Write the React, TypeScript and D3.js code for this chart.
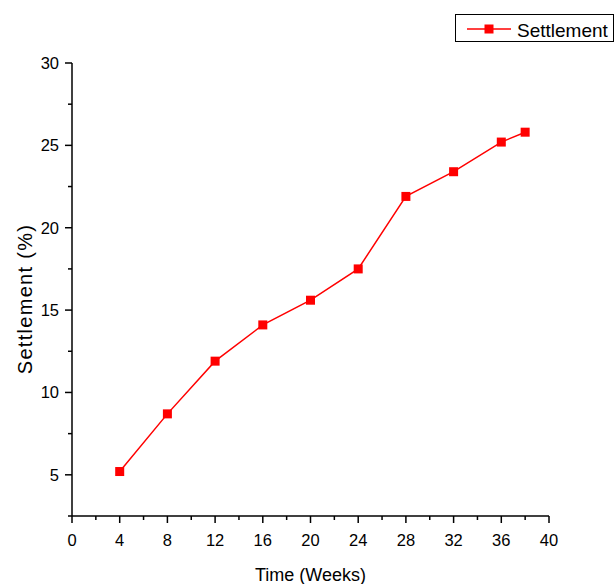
import React, { useEffect, useRef } from 'react'
import * as d3 from 'd3'

const weeks = [4, 8, 12, 16, 20, 24, 28, 32, 36, 38]
const settlement = [5.2, 8.7, 11.9, 14.1, 15.6, 17.5, 21.9, 23.4, 25.2, 25.8]
const xTicks = [0, 4, 8, 12, 16, 20, 24, 28, 32, 36, 40]
const yTicks = [5, 10, 15, 20, 25, 30]
const seriesName = 'Settlement'

export default function App() {
  const svgRef = useRef<SVGSVGElement>(null)

  useEffect(() => {
    const width = 614
    const height = 584
    const margin = { top: 63, right: 65, bottom: 68, left: 72 }
    const font = 'Liberation Sans, Arial, sans-serif'

    const svg = d3.select(svgRef.current)
    svg.selectAll('*').remove()

    const x = d3.scaleLinear().domain([0, 40]).range([margin.left, width - margin.right])
    const y = d3.scaleLinear().domain([2.5, 30]).range([height - margin.bottom, margin.top])

    // x axis: major + minor ticks
    const gx = svg.append('g').attr('transform', `translate(0,${y(2.5)})`)
    gx.append('line')
      .attr('x1', x(0) - 4).attr('x2', x(40))
      .attr('stroke', '#000').attr('stroke-width', 1.5)
    gx.selectAll('.minor')
      .data(d3.range(2, 40, 4))
      .join('line')
      .attr('x1', (d) => x(d)).attr('x2', (d) => x(d))
      .attr('y1', 0).attr('y2', 4)
      .attr('stroke', '#000').attr('stroke-width', 1.5)
    gx.selectAll('.major')
      .data(xTicks)
      .join('line')
      .attr('x1', (d) => x(d)).attr('x2', (d) => x(d))
      .attr('y1', 0).attr('y2', 7)
      .attr('stroke', '#000').attr('stroke-width', 1.5)
    gx.selectAll('text')
      .data(xTicks)
      .join('text')
      .attr('x', (d) => x(d))
      .attr('y', 30)
      .attr('text-anchor', 'middle')
      .style('font-family', font)
      .style('font-size', '16.5px')
      .text((d) => d)

    // y axis
    const gy = svg.append('g').attr('transform', `translate(${x(0)},0)`)
    gy.append('line')
      .attr('y1', y(30)).attr('y2', y(2.5))
      .attr('stroke', '#000').attr('stroke-width', 1.5)
    gy.selectAll('.minor')
      .data(d3.range(7.5, 30, 5))
      .join('line')
      .attr('y1', (d) => y(d)).attr('y2', (d) => y(d))
      .attr('x1', 0).attr('x2', -4)
      .attr('stroke', '#000').attr('stroke-width', 1.5)
    gy.selectAll('.major')
      .data(yTicks)
      .join('line')
      .attr('y1', (d) => y(d)).attr('y2', (d) => y(d))
      .attr('x1', 0).attr('x2', -7)
      .attr('stroke', '#000').attr('stroke-width', 1.5)
    gy.selectAll('text')
      .data(yTicks)
      .join('text')
      .attr('x', -13)
      .attr('y', (d) => y(d) + 6)
      .attr('text-anchor', 'end')
      .style('font-family', font)
      .style('font-size', '16.5px')
      .text((d) => d)

    // axis titles
    svg.append('text')
      .attr('x', x(20))
      .attr('y', 581)
      .attr('text-anchor', 'middle')
      .style('font-family', font)
      .style('font-size', '18px')
      .text('Time (Weeks)')
    svg.append('text')
      .attr('transform', `translate(32,299) rotate(-90)`)
      .attr('text-anchor', 'middle')
      .style('font-family', font)
      .style('font-size', '20px')
      .style('letter-spacing', '1.3px')
      .text('Settlement (%)')

    // series
    const pts = weeks.map((w, i) => [w, settlement[i]] as [number, number])
    svg.append('path')
      .attr('d', d3.line().x((d) => x(d[0])).y((d) => y(d[1]))(pts))
      .attr('fill', 'none')
      .attr('stroke', '#ff0000')
      .attr('stroke-width', 1.5)
    svg.selectAll('.pt')
      .data(pts)
      .join('rect')
      .attr('x', (d) => x(d[0]) - 4.5)
      .attr('y', (d) => y(d[1]) - 4.5)
      .attr('width', 9)
      .attr('height', 9)
      .attr('fill', '#ff0000')

    // legend
    const lg = svg.append('g')
    lg.append('rect')
      .attr('x', 455.5).attr('y', 14.5)
      .attr('width', 158).attr('height', 27)
      .attr('fill', '#fff').attr('stroke', '#000').attr('stroke-width', 1)
    lg.append('line')
      .attr('x1', 467).attr('x2', 511).attr('y1', 29).attr('y2', 29)
      .attr('stroke', '#ff0000').attr('stroke-width', 1.5)
    lg.append('rect')
      .attr('x', 484.5).attr('y', 24.5).attr('width', 9).attr('height', 9)
      .attr('fill', '#ff0000')
    lg.append('text')
      .attr('x', 517).attr('y', 37)
      .style('font-family', font)
      .style('font-size', '19px')
      .text(seriesName)
  }, [])

  return (
    <svg
      ref={svgRef}
      width={614}
      height={584}
      style={{ position: 'absolute', left: 0, top: 0, background: '#fff' }}
    />
  )
}
